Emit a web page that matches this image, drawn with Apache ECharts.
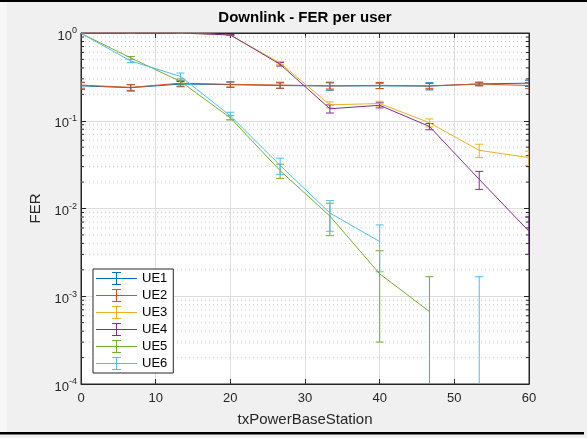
<!DOCTYPE html>
<html>
<head>
<meta charset="utf-8">
<script src="https://cdn.jsdelivr.net/npm/echarts@6/dist/echarts.min.js"></script>
<style>
  html, body { margin: 0; padding: 0; background: #f0f0f0; }
  #chart { width: 587px; height: 438px; }
</style>
</head>
<body>
<div id="chart"></div>
<script>
// Transmit power sweep (x values)
const txPower = [0, 6.667, 13.333, 20, 26.667, 33.333, 40, 46.667, 53.333, 60];

// Frame error rate per user, with error half-widths (null = no errors observed)
const ue1Fer = [0.25, 0.238, 0.262, 0.258, 0.252, 0.249, 0.25, 0.248, 0.263, 0.268];
const ue1Err = [0.022, 0.02, 0.018, 0.018, 0.018, 0.026, 0.018, 0.023, 0.012, 0.022];
const ue2Fer = [0.255, 0.24, 0.268, 0.26, 0.255, 0.25, 0.253, 0.25, 0.262, 0.252];
const ue2Err = [0.02, 0.018, 0.02, 0.018, 0.02, 0.02, 0.02, 0.016, 0.012, 0.02];
const ue3Fer = [1, 1, 1, 0.95, 0.455, 0.152, 0.157, 0.095, 0.046, 0.038];
const ue3Err = [0, 0, 0, 0.01, 0.02, 0.012, 0.01, 0.01, 0.008, 0.007];
const ue4Fer = [1, 1, 1, 0.95, 0.44, 0.137, 0.15, 0.086, 0.0215, 0.0055];
const ue4Err = [0, 0, 0, 0.01, 0.02, 0.0145, 0.01, 0.007, 0.005, 0.0025];
const ue5Fer = [0.99, 0.52, 0.28, 0.108, 0.027, 0.0082, 0.0018, 0.00067, null, null];
const ue5Err = [0.005, 0.02, 0.02, 0.006, 0.005, 0.0033, 0.0015, 0.001, null, null];
const ue6Fer = [0.99, 0.48, 0.32, 0.114, 0.031, 0.0089, 0.0042, null, 0.00067, null];
const ue6Err = [0.005, 0.02, 0.03, 0.011, 0.0065, 0.0034, 0.0023, null, 0.001, null];

const userNames = ['UE1', 'UE2', 'UE3', 'UE4', 'UE5', 'UE6'];
const userColors = ['#0072BD', '#D95319', '#EDB120', '#7E2F8E', '#77AC30', '#4DBEEE'];
const userFer = [ue1Fer, ue2Fer, ue3Fer, ue4Fer, ue5Fer, ue6Fer];
const userErr = [ue1Err, ue2Err, ue3Err, ue4Err, ue5Err, ue6Err];

// Axis ranges and ticks
const xTickValues = [0, 10, 20, 30, 40, 50, 60];
const yDecades = [-4, -3, -2, -1, 0];
const yMin = 1e-4, yMax = 1;

const textColor = '#262626';
const fontFamily = '"Liberation Sans", Arial, Helvetica, sans-serif';

// Minor log grid positions: 2..9 within every decade
const minorValues = [];
for (let d = -4; d < 0; d++) {
  for (let k = 2; k <= 9; k++) minorValues.push([0, k * Math.pow(10, d)]);
}

// Legend glyph: a horizontal line crossed by a capped error bar
const errorBarIcon = 'path://M0,6H41V7H0Z M20,0H21V13H20Z M16,0H25V1H16Z M16,12H25V13H16Z';

function errorBarRenderer(color) {
  return function (params, api) {
    const x = api.value(0);
    const lo = api.value(1);
    const hi = api.value(2);
    if (isNaN(hi)) return null;
    const clipped = !(lo > yMin);
    const top = api.coord([x, hi]);
    const bot = api.coord([x, clipped ? yMin : lo]);
    const half = 4;
    const style = { stroke: color, lineWidth: 1 };
    const children = [
      { type: 'line', shape: { x1: top[0], y1: top[1], x2: bot[0], y2: bot[1] }, style },
      { type: 'line', shape: { x1: top[0] - half, y1: top[1], x2: top[0] + half, y2: top[1] }, style }
    ];
    if (!clipped) {
      children.push({ type: 'line', shape: { x1: bot[0] - half, y1: bot[1], x2: bot[0] + half, y2: bot[1] }, style });
    }
    return { type: 'group', children };
  };
}

const series = [];

// Dotted minor grid lines plus inward minor ticks on both y sides
series.push({
  type: 'custom',
  silent: true,
  z: 1,
  xAxisIndex: 0,
  yAxisIndex: 0,
  data: minorValues,
  renderItem: function (params, api) {
    const v = api.value(1);
    const a = api.coord([0, v]);
    const b = api.coord([60, v]);
    return {
      type: 'group',
      children: [
        { type: 'line', shape: { x1: a[0], y1: a[1], x2: b[0], y2: b[1] },
          style: { stroke: '#cdcdcd', lineWidth: 1, lineDash: [1, 3] } },
        { type: 'line', shape: { x1: a[0], y1: a[1], x2: a[0] + 3, y2: a[1] },
          style: { stroke: textColor, lineWidth: 1 } },
        { type: 'line', shape: { x1: b[0] - 3, y1: b[1], x2: b[0], y2: b[1] },
          style: { stroke: textColor, lineWidth: 1 } }
      ]
    };
  }
});

userNames.forEach(function (name, i) {
  const fer = userFer[i];
  const err = userErr[i];
  const color = userColors[i];
  series.push({
    name,
    type: 'line',
    z: 3,
    symbol: 'none',
    showSymbol: false,
    connectNulls: false,
    color,
    lineStyle: { color, width: 1 },
    data: txPower.map(function (x, j) { return [x, fer[j] == null ? '-' : fer[j]]; })
  });
  const bars = [];
  txPower.forEach(function (x, j) {
    if (fer[j] == null) return;
    bars.push([x, fer[j] - err[j], fer[j] + err[j]]);
  });
  series.push({
    name,
    type: 'custom',
    z: 3,
    color,
    clip: true,
    renderItem: errorBarRenderer(color),
    encode: { x: 0, y: [1, 2] },
    data: bars
  });
});

const chart = echarts.init(document.getElementById('chart'), null, { renderer: 'canvas' });

chart.setOption({
  animation: false,
  backgroundColor: '#f0f0f0',
  textStyle: { fontFamily },
  graphic: [
    { type: 'rect', left: 0, top: 0, shape: { width: 587, height: 2 }, style: { fill: '#000' }, z: -1 },
    { type: 'rect', left: 0, top: 2, shape: { width: 7, height: 430 }, style: { fill: '#f7f7f7' }, z: -1 },
    { type: 'rect', left: 0, top: 432, shape: { width: 584, height: 2.5 }, style: { fill: '#000' }, z: -1 }
  ],
  title: {
    text: 'Downlink - FER per user',
    left: 305,
    top: 10,
    padding: 0,
    textAlign: 'center',
    textStyle: { fontFamily, fontSize: 15, fontWeight: 'bold', color: '#000' }
  },
  grid: {
    left: 81, top: 33, width: 448, height: 351,
    show: true, backgroundColor: '#ffffff', borderColor: textColor, borderWidth: 1
  },
  legend: {
    orient: 'vertical',
    left: 93,
    top: 269,
    padding: [3, 6, 3, 3],
    itemGap: 4,
    itemWidth: 41,
    itemHeight: 13,
    backgroundColor: '#ffffff',
    borderColor: textColor,
    borderWidth: 1,
    borderRadius: 0,
    itemStyle: { borderWidth: 0 },
    textStyle: { fontFamily, fontSize: 13, color: '#000' },
    data: userNames.map(function (name) { return { name, icon: errorBarIcon }; })
  },
  xAxis: [
    {
      type: 'value', min: 0, max: 60, interval: 10,
      name: 'txPowerBaseStation', nameLocation: 'middle', nameGap: 28,
      nameTextStyle: { fontFamily, fontSize: 15, color: textColor },
      axisLine: { onZero: false, lineStyle: { color: textColor } },
      axisTick: { inside: true, length: 5, lineStyle: { color: textColor } },
      axisLabel: { fontFamily, fontSize: 13, color: textColor, margin: 8 },
      splitLine: { show: true, lineStyle: { color: '#dedede', width: 1 } }
    },
    {
      type: 'value', min: 0, max: 60, interval: 10, position: 'top',
      axisLine: { onZero: false, lineStyle: { color: textColor } },
      axisTick: { inside: true, length: 5, lineStyle: { color: textColor } },
      axisLabel: { show: false },
      splitLine: { show: false }
    }
  ],
  yAxis: [
    {
      type: 'log', logBase: 10, min: yMin, max: yMax,
      name: 'FER', nameLocation: 'middle', nameGap: 36, nameRotate: 90,
      nameTextStyle: { fontFamily, fontSize: 15, color: textColor },
      axisLine: { onZero: false, lineStyle: { color: textColor } },
      axisTick: { inside: true, length: 5, lineStyle: { color: textColor } },
      axisLabel: {
        margin: 4,
        color: textColor,
        formatter: function (value) {
          const exp = Math.round(Math.log10(value));
          return '{b|10}{s|' + exp + '}';
        },
        rich: {
          b: { fontFamily, fontSize: 13, color: textColor, padding: [6, 0, 0, 0] },
          s: { fontFamily, fontSize: 9, color: textColor, padding: [0, 0, 4, 0] }
        }
      },
      splitLine: { show: true, lineStyle: { color: '#dedede', width: 1 } }
    },
    {
      type: 'log', logBase: 10, min: yMin, max: yMax, position: 'right',
      axisLine: { onZero: false, lineStyle: { color: textColor } },
      axisTick: { inside: true, length: 5, lineStyle: { color: textColor } },
      axisLabel: { show: false },
      splitLine: { show: false }
    }
  ],
  series
});
</script>
</body>
</html>
